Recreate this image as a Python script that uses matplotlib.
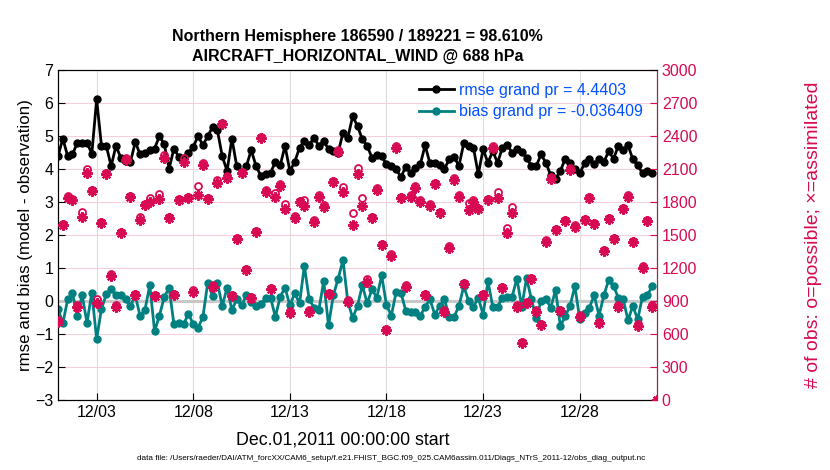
import numpy as np
import pandas as pd
import matplotlib
matplotlib.use("Agg")
import matplotlib.pyplot as plt
import matplotlib.dates as mdates

plt.rcParams['font.family'] = ['Liberation Sans', 'DejaVu Sans']

# 6-hourly bins, Dec 1 2011 00Z .. Jan 1 2012 00Z
times = pd.date_range('2011-12-01 00:00', periods=125, freq='6h')

rmse = [4.39, 4.92, 4.39, 4.44, 4.80, 4.80, 4.80, 4.46, 6.11, 4.70,
        4.70, 4.09, 4.70, 4.34, 4.24, 4.21, 4.82, 4.44, 4.50, 4.57,
        4.62, 5.00, 4.75, 4.01, 4.62, 4.37, 4.34, 4.50, 4.67, 5.00,
        4.72, 5.00, 5.27, 5.17, 4.39, 3.94, 4.92, 4.09, 3.89, 4.09,
        4.57, 4.09, 3.79, 3.84, 3.89, 4.21, 4.11, 4.70, 3.94, 4.21,
        4.65, 4.85, 4.72, 4.95, 4.70, 4.85, 4.60, 4.55, 4.50, 5.10,
        4.95, 5.60, 5.30, 4.90, 4.70, 4.34, 4.41, 4.39, 4.14, 4.09,
        3.99, 3.76, 4.07, 3.87, 4.04, 4.14, 4.72, 4.17, 4.17, 4.11,
        4.01, 4.29, 4.37, 4.09, 4.78, 4.70, 4.65, 3.84, 4.60, 4.19,
        4.54, 4.19, 4.65, 4.72, 4.50, 4.60, 4.52, 4.34, 4.09, 4.09,
        4.44, 4.19, 3.81, 3.71, 3.94, 4.31, 4.17, 4.01, 3.87, 4.17,
        4.31, 4.14, 4.31, 4.21, 4.54, 4.31, 4.70, 4.58, 4.72, 4.29,
        4.11, 3.87, 3.94, 3.87, np.nan]

bias = [-0.23, -0.68, 0.05, 0.23, -0.44, 0.17, -0.66, 0.25, -1.16, -0.23,
        0.20, 0.35, 0.17, 0.17, 0.05, -0.15, 0.17, -0.46, -0.27, 0.48,
        -0.92, -0.44, 0.12, 0.40, -0.71, -0.66, -0.71, -0.38, -0.71, -0.81,
        -0.48, 0.56, 0.15, 0.56, -0.15, 0.40, -0.27, 0.05, -0.13, 0.17,
        -0.03, -0.16, -0.10, 0.10, 0.10, -0.48, 0.13, 0.40, -0.13, 0.23,
        -0.07, 1.06, 0.05, -0.20, -0.27, 0.60, -0.74, 0.17, 0.68, 1.24,
        -0.03, -0.51, -0.15, 0.48, -0.07, 0.35, 0.10, 0.78, -0.13, -0.44,
        0.27, 0.25, -0.30, -0.33, -0.33, -0.46, -0.17, 0.05, -0.41, -0.15,
        0.05, -0.48, -0.48, -0.15, 0.45, 0.00, -0.17, 0.10, -0.41, 0.60,
        -0.17, -0.17, 0.10, 0.13, 0.13, 0.68, -0.17, 0.70, 0.05, -0.51,
        0.00, 0.05, -0.20, 0.33, -0.76, -0.46, -0.15, 0.45, -0.54, -0.35,
        -0.20, 0.17, -0.44, 0.17, 0.64, 0.45, 0.10, 0.05, -0.58, -0.15,
        -0.56, 0.13, 0.17, 0.45, np.nan]

nused = [712, 1591, 1839, 1818, 848, 1666, 2061, 1900, 879, 1606,
         2052, 1130, 848, 1515, 2182, 1845, 955, 1636, 1773, 1803,
         945, 1830, 2203, 1651, 955, 1818, 2167, 1833, 985, 1864,
         2136, 1827, 1030, 1970, 2506, 2021, 945, 1464, 2061, 1182,
         924, 1524, 2379, 1894, 1009, 1848, 1948, 1736, 794, 1657,
         1797, 1767, 803, 1621, 1848, 1757, 961, 1979, 2257, 1888,
         894, 1591, 2052, 1767, 1070, 1651, 1909, 1409, 636, 1312,
         2294, 1833, 1030, 1848, 1930, 1797, 952, 1767, 1961, 1697,
         803, 1385, 2000, 1848, 1052, 1727, 1803, 1736, 952, 1818,
         2294, 1839, 1015, 1515, 1697, 848, 515, 879, 1100, 803,
         682, 1439, 2009, 1545, 809, 1627, 2091, 1576, 757, 1636,
         1833, 1600, 697, 1354, 1645, 1464, 848, 1736, 1848, 1434,
         676, 1203, 1627, 848, 0]

nposs = [724, 1604, 1853, 1831, 860, 1706, 2100, 1913, 918, 1619,
         2066, 1143, 860, 1528, 2197, 1858, 967, 1660, 1786, 1840,
         957, 1870, 2230, 1665, 967, 1831, 2200, 1847, 997, 1948,
         2151, 1840, 1042, 2000, 2521, 2035, 957, 1477, 2075, 1195,
         936, 1537, 2394, 1908, 1021, 1879, 1962, 1779, 806, 1670,
         1811, 1818, 815, 1634, 1862, 1770, 973, 1993, 2271, 1939,
         906, 1697, 2112, 1833, 1100, 1664, 1923, 1422, 648, 1325,
         2309, 1847, 1042, 1862, 1944, 1820, 964, 1780, 1975, 1710,
         815, 1398, 2014, 1862, 1064, 1788, 1817, 1749, 964, 1831,
         2309, 1888, 1027, 1560, 1757, 860, 527, 891, 1112, 815,
         694, 1452, 2023, 1558, 821, 1640, 2105, 1589, 769, 1649,
         1847, 1613, 709, 1367, 1658, 1477, 860, 1749, 1862, 1447,
         688, 1216, 1640, 860, 0]

rmse_c = 'black'
bias_c = (0.0, 0.5, 0.5)
obs_c = '#d70a53'
leg_c = '#0050ff'

fig = plt.figure(figsize=(8.3, 4.7), dpi=100)
ax = fig.add_axes([58 / 830, 70 / 470, 599 / 830, 330 / 470])

ax.axhline(0, color='#c8c8c8', lw=2.2, zorder=1)
ax.plot(times, rmse, '-o', color=rmse_c, lw=2, ms=5, zorder=3,
        label='rmse grand pr = 4.4403')
ax.plot(times, bias, '-o', color=bias_c, lw=2, ms=5, zorder=3,
        label='bias grand pr = -0.036409')

ax.set_ylim(-3, 7)
ax.set_yticks(range(-3, 8))
ax.set_xlim(times[0], times[-1])
ax.xaxis.set_major_locator(mdates.DayLocator(bymonthday=[3, 8, 13, 18, 23, 28]))
ax.xaxis.set_major_formatter(mdates.DateFormatter('%m/%d'))
ax.grid(axis='x', color='#dcdcdc', lw=0.8)
ax.grid(axis='y', color='#f6cfdc', lw=0.8)
ax.set_axisbelow(True)
ax.tick_params(direction='in', labelsize=11.5, length=5)
ax.set_ylabel('rmse and bias (model - observation)', fontsize=12.2)
ax.yaxis.set_label_coords(-0.042, 0.5)
ax.set_xlabel('Dec.01,2011 00:00:00 start', fontsize=12.8)
ax.xaxis.set_label_coords(0.475, -0.095)

leg = ax.legend(loc='upper right', bbox_to_anchor=(0.992, 0.99), frameon=False,
                fontsize=11.5, labelcolor=leg_c, handlelength=2.2,
                handletextpad=0.3, borderaxespad=0.2, labelspacing=0.4)

ax2 = ax.twinx()
ax2.plot(times, nposs, 'o', mfc='none', mec=obs_c, ms=5, mew=1.3, zorder=4)
ax2.plot(times, nused, ls='none', marker=(8, 2, 0), color=obs_c, ms=7.5,
         mew=1.6, zorder=4)
ax2.set_ylim(0, 3000)
ax2.set_yticks(range(0, 3001, 300))
ax2.tick_params(direction='in', labelsize=11.5, length=5, colors=obs_c)
ax2.spines['right'].set_color(obs_c)
ax2.set_ylabel('# of obs: o=possible; \u00d7=assimilated', color=obs_c,
               fontsize=14)
ax2.yaxis.set_label_coords(1.247, 0.5)

xc = (58 + 657) / 2 / 830
fig.text(xc, 1 - 37 / 470, 'Northern Hemisphere 186590 / 189221 = 98.610%',
         ha='center', va='center', fontsize=11.5, fontweight='bold')
fig.text(xc, 1 - 56 / 470, 'AIRCRAFT_HORIZONTAL_WIND @ 688 hPa',
         ha='center', va='center', fontsize=11.5, fontweight='bold')
fig.text(137 / 830, 1 - 458 / 470,
         'data file: /Users/raeder/DAI/ATM_forcXX/CAM6_setup/'
         'f.e21.FHIST_BGC.f09_025.CAM6assim.011/Diags_NTrS_2011-12/'
         'obs_diag_output.nc',
         ha='left', va='center', fontsize=5.85)

fig.savefig('out.png', dpi=100)
